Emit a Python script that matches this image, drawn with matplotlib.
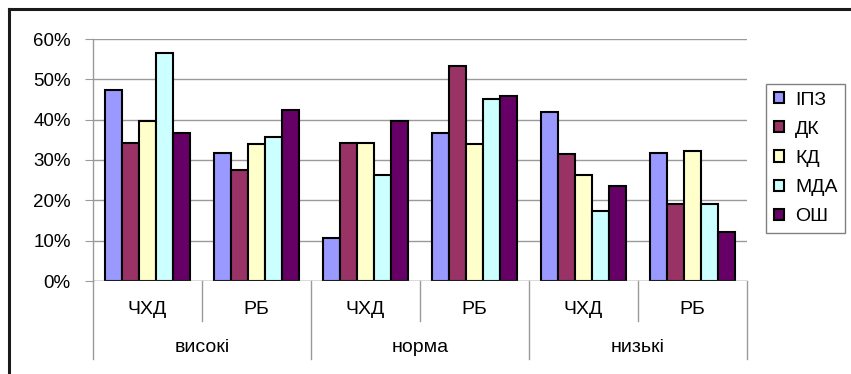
import matplotlib
matplotlib.use("Agg")
import matplotlib.pyplot as plt
from matplotlib.lines import Line2D
import numpy as np

plt.rcParams['font.family'] = ['Liberation Sans', 'DejaVu Sans']

groups = ["високі", "норма", "низькі"]
subgroups = ["ЧХД", "РБ"]
series = ["ІПЗ", "ДК", "КД", "МДА", "ОШ"]
colors = ["#9999FF", "#993366", "#FFFFCC", "#CCFFFF", "#660066"]

# percent values per series, one per (group, subgroup) column
ipz = [47.3, 31.8, 10.6, 36.7, 42.0, 31.8]
dk = [34.2, 27.5, 34.2, 53.3, 31.4, 19.1]
kd = [39.7, 34.0, 34.2, 33.9, 26.4, 32.2]
mda = [56.5, 35.7, 26.2, 45.2, 17.3, 19.1]
osh = [36.7, 42.4, 39.7, 45.9, 23.6, 12.1]
values = [ipz, dk, kd, mda, osh]

yticks = [0, 10, 20, 30, 40, 50, 60]

W, H = 851, 374
fig = plt.figure(figsize=(W / 100, H / 100), dpi=100)
ax = fig.add_axes([93 / W, (H - 281) / H, (747 - 93) / W, (281 - 39) / H])

n_cols = len(groups) * len(subgroups)
x = np.arange(n_cols)
bw = 0.156
for i, (name, vals, c) in enumerate(zip(series, values, colors)):
    ax.bar(x + (i - 2) * bw, vals, width=bw, color=c, edgecolor="black",
           linewidth=1.5, label=name, zorder=3)

ax.set_xlim(-0.5, n_cols - 0.5)
ax.set_ylim(0, 60)
ax.set_yticks(yticks)
ax.set_yticklabels([f"{t}%" for t in yticks], fontsize=13.5)
ax.yaxis.grid(True, color="#9a9a9a", linewidth=1.0, zorder=0)
ax.tick_params(axis="y", length=6, color="#9a9a9a", pad=10)
ax.set_xticks([])
for s in ["top", "right", "bottom"]:
    ax.spines[s].set_visible(False)
ax.spines["left"].set_color("#9a9a9a")
ax.spines["left"].set_linewidth(1.0)
ax.axhline(0, color="#9a9a9a", linewidth=1.0, zorder=4)

# category axis: inner separators, outer separators and labels
narrow = ["Liberation Sans Narrow", "Liberation Sans", "DejaVu Sans"]
trans = ax.get_xaxis_transform()
inner_bottom = -(321 - 281) / (281 - 39)
outer_bottom = -(359 - 281) / (281 - 39)
for k in range(n_cols + 1):
    xe = k - 0.5
    yb = outer_bottom if k % len(subgroups) == 0 else inner_bottom
    ax.add_line(Line2D([xe, xe], [0, yb], transform=trans, color="#9a9a9a",
                       linewidth=1.0, clip_on=False))
for k in range(n_cols):
    ax.text(k, -(309 - 281) / (281 - 39), subgroups[k % len(subgroups)],
            transform=trans, ha="center", va="center", fontsize=14,
            family=narrow)
for g, name in enumerate(groups):
    ax.text(g * len(subgroups) + (len(subgroups) - 1) / 2,
            -(348 - 281) / (281 - 39), name, transform=trans,
            ha="center", va="center", fontsize=14, family=narrow)

# outer chart frame (left and top edges)
fig.add_artist(Line2D([8.5 / W, 8.5 / W], [0, 1 - 9 / H], transform=fig.transFigure,
                      color="#1a1a1a", linewidth=2.2))
fig.add_artist(Line2D([8.5 / W, 1.0], [1 - 9 / H, 1 - 9 / H], transform=fig.transFigure,
                      color="#1a1a1a", linewidth=2.2))

leg = fig.legend(loc="upper left", bbox_to_anchor=(766 / W, 1 - 84 / H),
                 bbox_transform=fig.transFigure, borderaxespad=0, fontsize=14,
                 handlelength=0.5, handleheight=0.5, handletextpad=0.6,
                 labelspacing=0.62, borderpad=0.4, fancybox=False,
                 edgecolor="#808080", framealpha=1)
leg.get_frame().set_linewidth(1.0)

fig.savefig("out.png", dpi=100)
